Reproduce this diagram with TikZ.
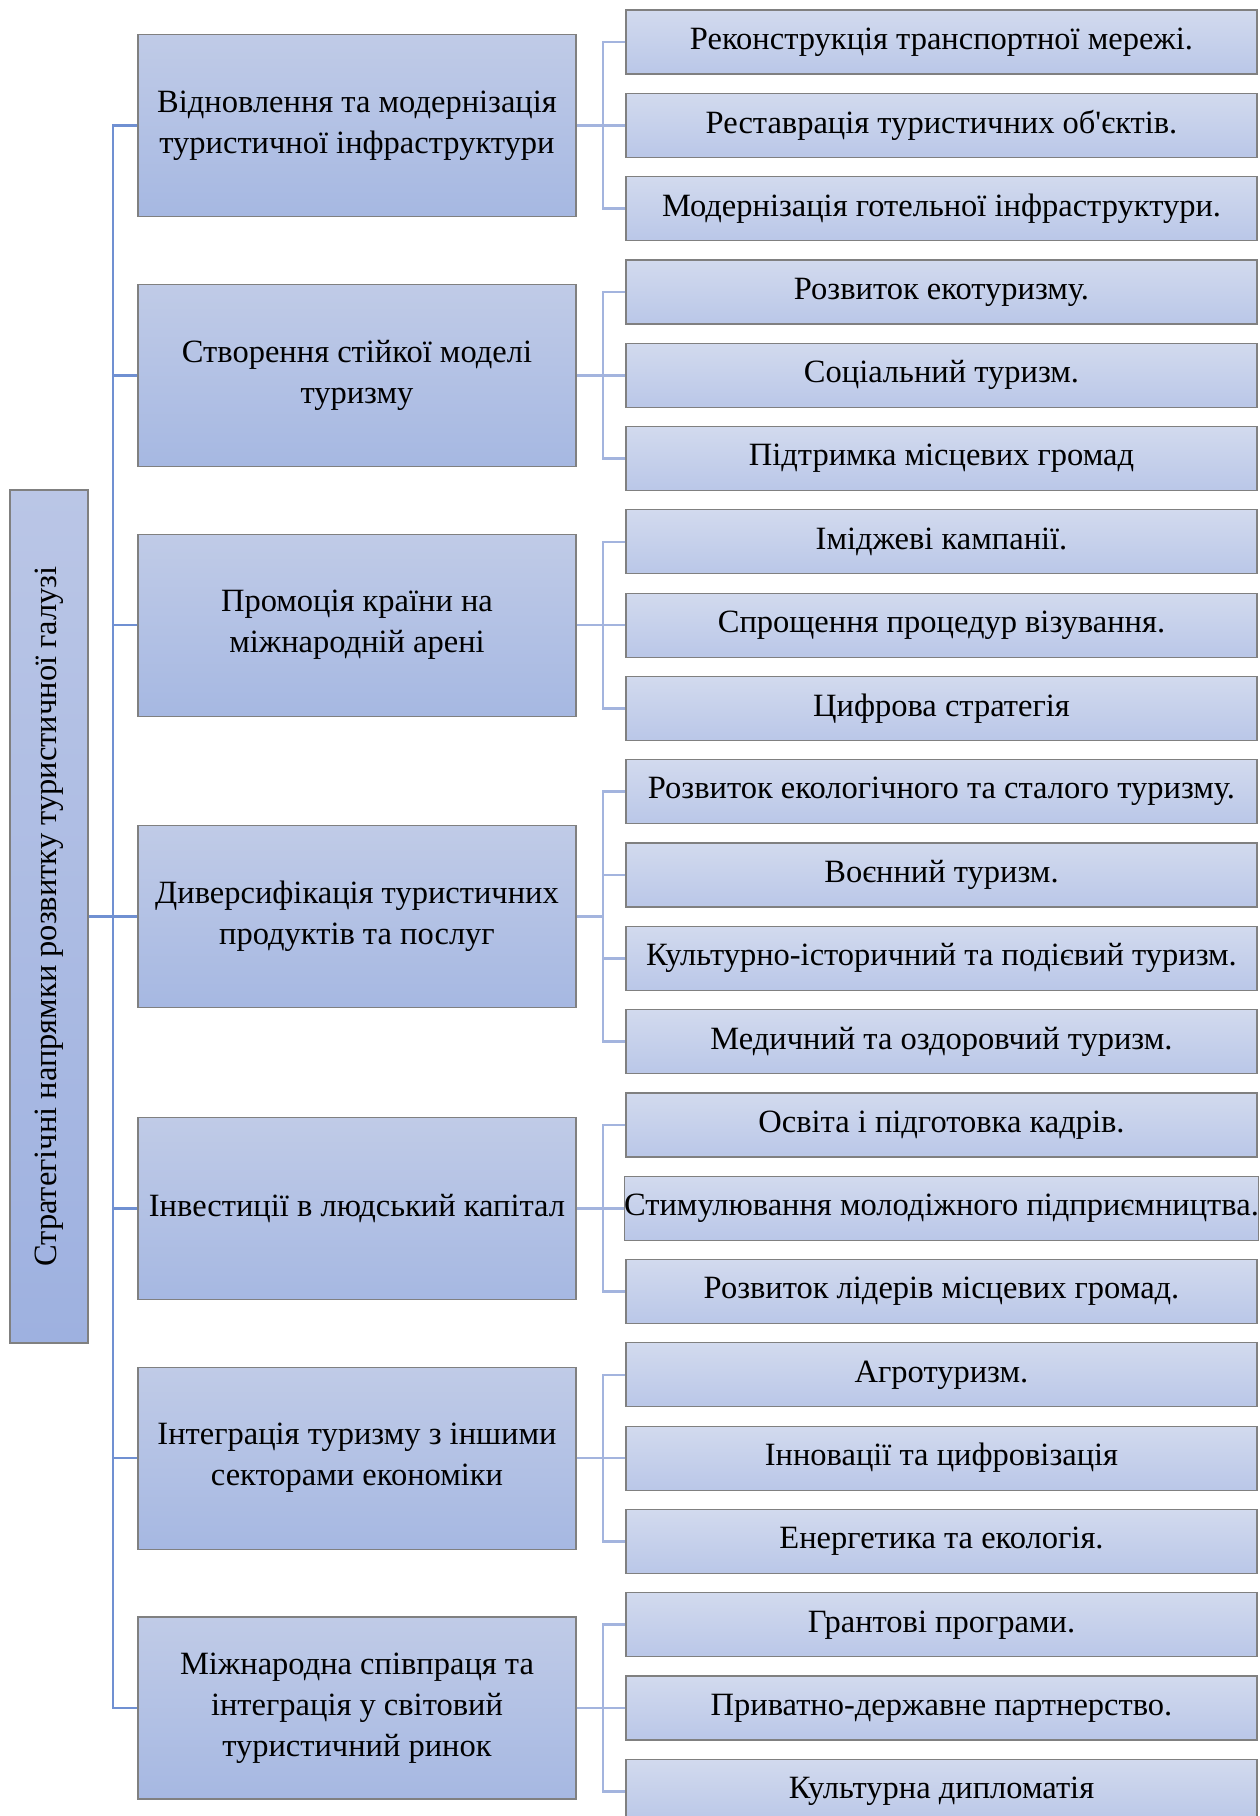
\documentclass[tikz,border=0pt]{standalone}
\usepackage{fontspec}
\setmainfont{Liberation Serif}
\usepackage{graphicx}
\definecolor{trunkc}{RGB}{112,144,210}
\definecolor{brc}{RGB}{163,180,222}
\definecolor{bordc}{RGB}{128,128,128}
\definecolor{mtop}{RGB}{192,203,231}
\definecolor{mbot}{RGB}{166,184,226}
\definecolor{ctop}{RGB}{210,218,238}
\definecolor{cbot}{RGB}{186,199,232}
\definecolor{rtop}{RGB}{186,198,230}
\definecolor{rbot}{RGB}{158,177,224}
\begin{document}
\begin{tikzpicture}[x=1pt,y=-1pt,
  every node/.style={font=\fontsize{32.5}{41}\selectfont, inner sep=0pt, align=center},
  mainbox/.style={draw=bordc, line width=1.2pt, top color=mtop, bottom color=mbot, minimum width=438pt, minimum height=182pt},
  childbox/.style={draw=bordc, line width=1.2pt, top color=ctop, bottom color=cbot, minimum width=631pt, minimum height=64pt},
  rootbox/.style={draw=bordc, line width=1.2pt, top color=rtop, bottom color=rbot, minimum width=78pt, minimum height=853pt},
  trunk/.style={draw=trunkc, line width=2.6pt},
  br/.style={draw=brc, line width=2.6pt}]
\useasboundingbox (0,0) rectangle (1260,1816);
\coordinate (tk) at (113,0);
\coordinate (bx) at (603,0);
% root
\node[rootbox] (root) at (49,916.5) {\rotatebox{90}{Стратегічні напрямки розвитку туристичної галузі}};
% main boxes
\node[mainbox] (m1) at (357,125.3) {Відновлення та модернізація\\туристичної інфраструктури};
\node[mainbox] (m2) at (357,375.2) {Створення стійкої моделі\\туризму};
\node[mainbox] (m3) at (357,625.1) {Промоція країни на\\міжнародній арені};
\node[mainbox] (m4) at (357,916.7) {Диверсифікація туристичних\\продуктів та послуг};
\node[mainbox] (m5) at (357,1208.2) {Інвестиції в людський капітал};
\node[mainbox] (m6) at (357,1458.1) {Інтеграція туризму з іншими\\секторами економіки};
\node[mainbox] (m7) at (357,1708) {Міжнародна співпраця та\\інтеграція у світовий\\туристичний ринок};
% children
\foreach \i/\t in {0/{Реконструкція транспортної мережі.},
  1/{Реставрація туристичних об\textquotesingle єктів.},
  2/{Модернізація готельної інфраструктури.},
  3/{Розвиток екотуризму.},
  4/{Соціальний туризм.},
  5/{Підтримка місцевих громад},
  6/{Іміджеві кампанії.},
  7/{Спрощення процедур візування.},
  8/{Цифрова стратегія},
  9/{Розвиток екологічного та сталого туризму.},
  10/{Воєнний туризм.},
  11/{Культурно-історичний та подієвий туризм.},
  12/{Медичний та оздоровчий туризм.},
  13/{Освіта і підготовка кадрів.},
  14/{Стимулювання молодіжного підприємництва.},
  15/{Розвиток лідерів місцевих громад.},
  16/{Агротуризм.},
  17/{Інновації та цифровізація},
  18/{Енергетика та екологія.},
  19/{Грантові програми.},
  20/{Приватно-державне партнерство.},
  21/{Культурна дипломатія}}
  {\node[childbox] (c\i) at (941.5,{42+83.3*\i}) {\t};}
% trunk connectors
\draw[trunk] (m1.west) -- (tk |- m1.west) -- (tk |- m7.west) -- (m7.west);
\foreach \m in {m2,m3,m4,m5,m6} {\draw[trunk] (\m.west) -- (tk |- \m.west);}
\draw[trunk] (root.east) -- (tk |- root.east);
% brackets
\foreach \m/\a/\b in {m1/0/2, m2/3/5, m3/6/8, m4/9/12, m5/13/15, m6/16/18, m7/19/21} {
  \draw[br] (\m.east) -- (bx |- \m.east);
  \draw[br] (c\a.west) -- (bx |- c\a.west) -- (bx |- c\b.west) -- (c\b.west);
}
\foreach \c in {1,4,7,10,11,14,17,20} {\draw[br] (c\c.west) -- (bx |- c\c.west);}
\end{tikzpicture}
\end{document}
